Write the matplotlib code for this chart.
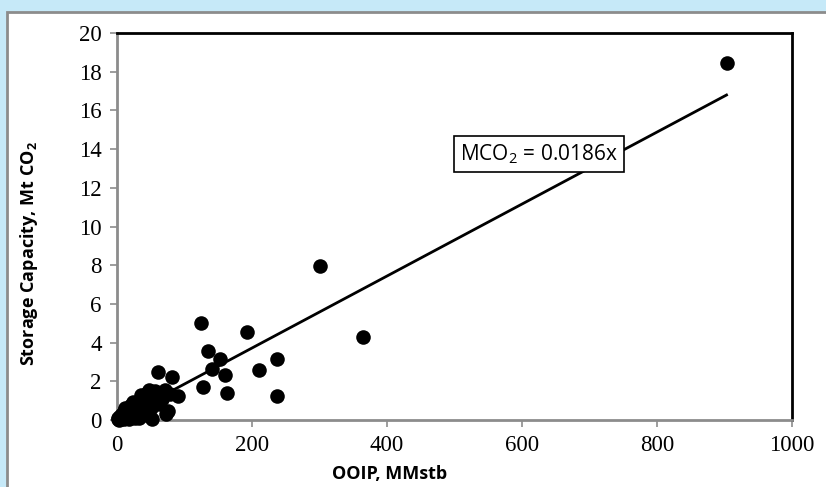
import matplotlib.pyplot as plt
from matplotlib.patches import Rectangle

# OOIP (MMstb) vs storage capacity (Mt CO2)
ooip = [903, 300, 365, 237, 237, 210, 193, 125, 135, 141, 153, 160, 163, 127,
        90, 81, 61, 71, 76, 72, 68, 52, 48, 45, 40, 38, 35, 32, 30, 28, 25,
        22, 20, 18, 15, 12, 10, 8, 6, 5, 3, 2, 1, 55, 50, 42, 36, 30, 26,
        24, 20, 16, 14, 10, 8, 4, 62, 58, 44, 33, 27, 18, 12, 48, 40,
        45, 58, 66, 78, 56, 36]
capacity = [18.45, 7.95, 4.3, 3.15, 1.22, 2.58, 4.55, 5.0, 3.55, 2.65, 3.15,
            2.33, 1.38, 1.68, 1.25, 2.22, 2.5, 1.55, 0.45, 0.3, 1.3, 0.05,
            1.55, 1.0, 1.2, 0.7, 0.9, 0.85, 0.5, 0.75, 0.55, 0.35, 0.75, 0.5,
            0.3, 0.2, 0.45, 0.1, 0.15, 0.05, 0.0, 0.1, 0.05, 1.1, 0.6, 0.4,
            0.3, 0.2, 0.1, 0.95, 0.25, 0.6, 0.1, 0.05, 0.3, 0.2, 0.85, 1.15,
            0.6, 0.1, 0.35, 0.05, 0.6, 0.2, 0.8, 1.4, 0.9, 1.1, 1.35, 1.5,
            1.3]
slope = 0.0186

x_ticks = [0, 200, 400, 600, 800, 1000]
y_ticks = list(range(0, 21, 2))

plt.rcParams['mathtext.fontset'] = 'custom'
plt.rcParams['mathtext.rm'] = 'Open Sans'
plt.rcParams['mathtext.bf'] = 'Open Sans:bold'

fig = plt.figure(figsize=(8.26, 4.87), dpi=100)
fig.patch.set_facecolor('#c6e9f8')
# white panel with grey border
fig.add_artist(Rectangle((7 / 826, -0.05), 1.0, 1 - 12 / 487 + 0.05,
                         transform=fig.transFigure, facecolor='white',
                         edgecolor='#8c8c8c', linewidth=2, zorder=-5))

ax = fig.add_axes([117 / 826, 1 - 420 / 487, 675 / 826, 387 / 487])
ax.set_facecolor('white')

ax.plot([0, max(ooip)], [0, slope * max(ooip)], color='black', lw=2, zorder=2)
ax.scatter(ooip, capacity, s=110, color='black', zorder=3, linewidths=0,
           clip_on=False)

ax.set_xlim(0, 1000)
ax.set_ylim(0, 20)
ax.set_xticks(x_ticks)
ax.set_yticks(y_ticks)
ax.tick_params(direction='out', length=5, color='#8c8c8c', width=1.2, pad=6)
for lab in ax.get_xticklabels() + ax.get_yticklabels():
    lab.set_fontfamily('Liberation Serif')
    lab.set_fontsize(16.5)
    lab.set_color('black')

for side in ['left', 'bottom']:
    ax.spines[side].set_color('#8c8c8c')
    ax.spines[side].set_linewidth(2)
for side in ['top', 'right']:
    ax.spines[side].set_color('black')
    ax.spines[side].set_linewidth(2)

ax.set_xlabel('OOIP, MMstb', fontfamily='Open Sans', fontweight='bold',
              fontsize=13)
ax.xaxis.set_label_coords(0.404, -0.115)
ax.set_ylabel('Storage Capacity, Mt CO$_\\mathbf{2}$', fontfamily='Open Sans',
              fontweight='bold', fontsize=13)
ax.yaxis.set_label_coords(-0.114, 0.43)

ax.text(625, 13.75, 'MCO$_2$ = 0.0186x', fontfamily='Open Sans', fontsize=15,
        ha='center', va='center',
        bbox=dict(boxstyle='square,pad=0.3', facecolor='white',
                  edgecolor='black', linewidth=1.2))

fig.savefig('out.png', dpi=100, facecolor=fig.get_facecolor())
